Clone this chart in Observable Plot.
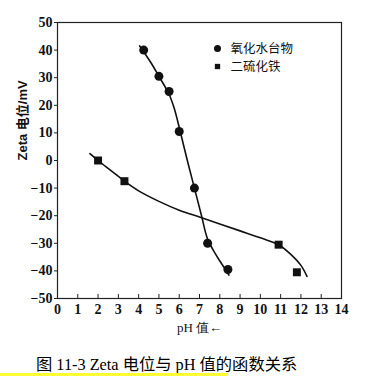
<!DOCTYPE html>
<html>
<head>
<meta charset="utf-8">
<script src="https://cdn.jsdelivr.net/npm/d3@7"></script>
<script src="https://cdn.jsdelivr.net/npm/@observablehq/plot@0.6"></script>
<style>
  body { margin: 0; background: #fff; width: 367px; height: 376px; overflow: hidden; position: relative; }
  #caption { position: absolute; left: 36px; top: 351px; font-family: "Liberation Serif", "Noto Sans CJK SC", serif; font-size: 16.3px; color: #000; white-space: nowrap; }
  #bar { position: absolute; left: 0; top: 373px; width: 228px; height: 3px; background: #ffff33; }
</style>
</head>
<body>
<div id="chart"></div>
<div id="caption">图 11-3 Zeta 电位与 pH 值的函数关系</div>
<div id="bar"></div>
<script>
// Measured points
const phCircle = [4.25, 5.0, 5.5, 6.0, 6.75, 7.4, 8.4];
const zetaCircle = [40, 30.5, 25, 10.5, -10, -30, -39.5];
const phSquare = [2.0, 3.3, 10.9, 11.8];
const zetaSquare = [0, -7.5, -30.5, -40.5];
// Drawn smooth curves
const phCircleFit = [4.05, 4.6, 5.0, 5.5, 5.75, 6.05, 6.4, 6.75, 7.1, 7.4, 7.8, 8.1, 8.45];
const zetaCircleFit = [41.5, 35.5, 30.5, 24, 19, 10.5, 0, -10, -20, -28.5, -34, -37.5, -41.5];
const phSquareFit = [1.6, 2.0, 2.7, 3.3, 4.0, 5.0, 6.0, 7.0, 8.0, 9.0, 10.0, 10.9, 11.5, 12.0, 12.3];
const zetaSquareFit = [2.5, 0, -4, -7.5, -11, -14.8, -18, -20.5, -23, -25.5, -28, -30.5, -34, -38, -42];
// Ticks and labels
const xTicks = d3.range(0, 15, 1);
const yTicks = d3.range(-50, 51, 10);
const seriesNames = ["氧化水台物", "二硫化铁"];
const xLabel = "pH 值←";
const yLabel = "Zeta 电位/mV";

const circles = phCircle.map((x, i) => ({x, y: zetaCircle[i]}));
const squares = phSquare.map((x, i) => ({x, y: zetaSquare[i]}));
const circleFit = phCircleFit.map((x, i) => ({x, y: zetaCircleFit[i]}));
const squareFit = phSquareFit.map((x, i) => ({x, y: zetaSquareFit[i]}));

const serif = "Liberation Serif, Times New Roman, serif";
const legendFont = "Noto Sans CJK SC, sans-serif";

const chart = Plot.plot({
  width: 367,
  height: 345,
  marginLeft: 57,
  marginRight: 26,
  marginTop: 22,
  marginBottom: 47,
  style: {fontFamily: serif, background: "white"},
  x: {domain: [0, 14]},
  y: {domain: [-50, 50]},
  marks: [
    Plot.frame({stroke: "#222", strokeWidth: 1.2}),
    Plot.axisX({ticks: xTicks, tickSize: -4, tickPadding: 10, tickFormat: d => String(d), label: null, fontSize: 14, fontWeight: "bold", fill: "#111", stroke: "#222"}),
    Plot.axisY({ticks: yTicks, tickSize: 3, tickPadding: 2, tickFormat: d => d < 0 ? "−" + Math.abs(d) : String(d), label: null, fontSize: 14, fontWeight: "bold", fill: "#111", stroke: "#222"}),
    Plot.text([xLabel], {frameAnchor: "bottom", dy: 33, text: d => d, fontSize: 13, fill: "#111"}),
    Plot.text([yLabel], {frameAnchor: "left", dx: -35, rotate: -90, text: d => d, fontSize: 13, fontWeight: "bold", fontFamily: "Liberation Sans, Arial, Noto Sans CJK SC, sans-serif", fill: "#111"}),
    Plot.line(circleFit, {x: "x", y: "y", curve: "catmull-rom", stroke: "#111", strokeWidth: 1.6}),
    Plot.line(squareFit, {x: "x", y: "y", curve: "catmull-rom", stroke: "#111", strokeWidth: 1.6}),
    Plot.dot(circles, {x: "x", y: "y", r: 4.5, fill: "#111", stroke: "none"}),
    Plot.dot(squares, {x: "x", y: "y", symbol: "square", r: 4.5, fill: "#111", stroke: "none"}),
    // legend
    Plot.dot([seriesNames[0]], {frameAnchor: "top-left", dx: 160, dy: 26, symbol: "circle", r: 3.5, fill: "#111"}),
    Plot.dot([seriesNames[1]], {frameAnchor: "top-left", dx: 160, dy: 44, symbol: "square", r: 3, fill: "#111"}),
    Plot.text([seriesNames[0]], {frameAnchor: "top-left", dx: 173, dy: 26, text: d => d, textAnchor: "start", lineAnchor: "middle", fontSize: 12.5, fontFamily: legendFont, fill: "#111"}),
    Plot.text([seriesNames[1]], {frameAnchor: "top-left", dx: 173, dy: 44, text: d => d, textAnchor: "start", lineAnchor: "middle", fontSize: 12.5, fontFamily: legendFont, fill: "#111"})
  ]
});
document.getElementById("chart").append(chart);
</script>
</body>
</html>
